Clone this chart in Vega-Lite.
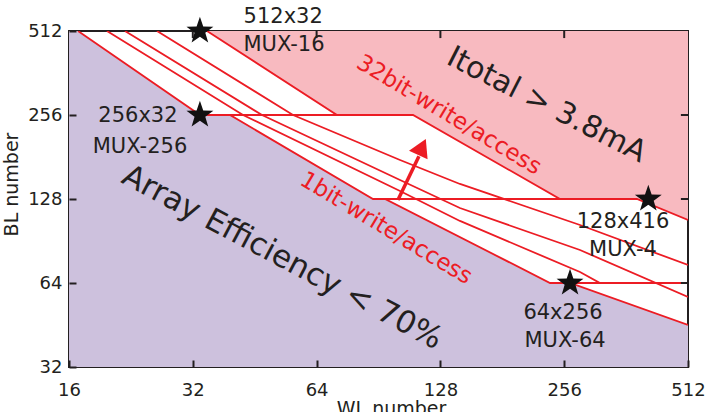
{
  "$schema": "https://vega.github.io/schema/vega-lite/v6.json",
  "width": 619,
  "height": 336,
  "autosize": {"type": "none"},
  "padding": {"left": 69, "top": 31, "right": 23, "bottom": 45},
  "background": "white",
  "config": {
    "view": {"stroke": "#231f20", "strokeWidth": 2},
    "font": "DejaVu Sans"
  },
  "datasets": {
    "regions": [
      {"r": "purple", "WL": 16, "BL": 512},
      {"r": "purple", "WL": 16.83, "BL": 512},
      {"r": "purple", "WL": 33.32, "BL": 256},
      {"r": "purple", "WL": 39.41, "BL": 256},
      {"r": "purple", "WL": 87.77, "BL": 128},
      {"r": "purple", "WL": 93.87, "BL": 128},
      {"r": "purple", "WL": 236.5, "BL": 64},
      {"r": "purple", "WL": 264.5, "BL": 64},
      {"r": "purple", "WL": 512, "BL": 45.25},
      {"r": "pink", "WL": 34.65, "BL": 512},
      {"r": "pink", "WL": 71.74, "BL": 256},
      {"r": "pink", "WL": 109.8, "BL": 256},
      {"r": "pink", "WL": 250.1, "BL": 128},
      {"r": "pink", "WL": 384.8, "BL": 128},
      {"r": "pink", "WL": 512, "BL": 107.6}
    ],
    "curves": [
      {"s": "A", "WL": 16.83, "BL": 512},
      {"s": "A", "WL": 33.32, "BL": 256},
      {"s": "A", "WL": 39.41, "BL": 256},
      {"s": "A", "WL": 87.77, "BL": 128},
      {"s": "A", "WL": 93.87, "BL": 128},
      {"s": "A", "WL": 236.5, "BL": 64},
      {"s": "A", "WL": 264.5, "BL": 64},
      {"s": "A", "WL": 512, "BL": 45.25},
      {"s": "B", "WL": 19.79, "BL": 512},
      {"s": "B", "WL": 42.39, "BL": 256},
      {"s": "B", "WL": 102.1, "BL": 136.7},
      {"s": "B", "WL": 142.8, "BL": 106.8},
      {"s": "B", "WL": 279.7, "BL": 70.08},
      {"s": "B", "WL": 312.8, "BL": 64},
      {"s": "B", "WL": 512, "BL": 64},
      {"s": "C", "WL": 21.89, "BL": 512},
      {"s": "C", "WL": 47.14, "BL": 256},
      {"s": "C", "WL": 102.1, "BL": 149.7},
      {"s": "C", "WL": 142.8, "BL": 118.8},
      {"s": "C", "WL": 279.7, "BL": 84.03},
      {"s": "C", "WL": 512, "BL": 57.02},
      {"s": "D", "WL": 26.19, "BL": 512},
      {"s": "D", "WL": 56.08, "BL": 256},
      {"s": "D", "WL": 102.1, "BL": 176.6},
      {"s": "D", "WL": 142.8, "BL": 144.9},
      {"s": "D", "WL": 279.7, "BL": 103.3},
      {"s": "D", "WL": 512, "BL": 74.25},
      {"s": "E", "WL": 34.65, "BL": 512},
      {"s": "E", "WL": 71.74, "BL": 256},
      {"s": "E", "WL": 109.8, "BL": 256},
      {"s": "E", "WL": 250.1, "BL": 128},
      {"s": "E", "WL": 384.8, "BL": 128},
      {"s": "E", "WL": 512, "BL": 107.6},
      {"s": "H256", "WL": 33.32, "BL": 256},
      {"s": "H256", "WL": 109.8, "BL": 256},
      {"s": "H128", "WL": 87.77, "BL": 128},
      {"s": "H128", "WL": 384.8, "BL": 128},
      {"s": "H64", "WL": 236.5, "BL": 64},
      {"s": "H64", "WL": 512, "BL": 64}
    ],
    "starpts": [
      {"name": "512x32", "WL": 33.3, "BL": 512},
      {"name": "256x32", "WL": 33.3, "BL": 256},
      {"name": "128x416", "WL": 410, "BL": 128},
      {"name": "64x256", "WL": 264.5, "BL": 64}
    ],
    "notes": [
      {"t": "512x32", "WL": 53.07, "BL": 574.7},
      {"t": "MUX-16", "WL": 53.33, "BL": 456.1},
      {"t": "256x32", "WL": 23.54, "BL": 253.9},
      {"t": "MUX-256", "WL": 23.81, "BL": 196.6},
      {"t": "128x416", "WL": 355.8, "BL": 105.9},
      {"t": "MUX-4", "WL": 355.8, "BL": 84.0},
      {"t": "64x256", "WL": 254.3, "BL": 49.96},
      {"t": "MUX-64", "WL": 257.2, "BL": 39.65}
    ],
    "xticks": [{"v": 32}, {"v": 64}, {"v": 128}, {"v": 256}],
    "yticks": [{"v": 64}, {"v": 128}, {"v": 256}]
  },
  "layer": [
    {
      "data": {"name": "regions"},
      "transform": [{"filter": "datum.r == 'purple'"}],
      "mark": {"type": "area", "color": "#cdc1dd", "clip": true},
      "encoding": {
        "x": {"field": "WL", "type": "quantitative",
              "scale": {"type": "log", "base": 2, "domain": [16, 512], "nice": false},
              "axis": {"values": [16, 32, 64, 128, 256, 512], "format": "d", "zindex": 1,
                       "domain": false, "grid": false, "tickSize": -7, "tickWidth": 2, "tickColor": "#231f20",
                       "labelFont": "DejaVu Sans", "labelFontSize": 18, "labelColor": "#231f20",
                       "labelPadding": 21, "labelBaseline": "top", "labelOverlap": false, "labelFlush": false,
                       "title": "WL number", "titleFont": "DejaVu Sans", "titleFontSize": 19, "titleFontWeight": "normal",
                       "titleColor": "#231f20", "titleX": 322, "titleY": 32, "titleBaseline": "top", "titleAlign": "center"}},
        "y": {"field": "BL", "type": "quantitative",
              "scale": {"type": "log", "base": 2, "domain": [32, 512], "nice": false},
              "axis": {"values": [32, 64, 128, 256, 512], "format": "d", "zindex": 1,
                       "domain": false, "grid": false, "tickSize": -7, "tickWidth": 2, "tickColor": "#231f20",
                       "labelFont": "DejaVu Sans", "labelFontSize": 18, "labelColor": "#231f20",
                       "labelPadding": 14, "labelOverlap": false, "labelFlush": false,
                       "title": "BL number", "titleFont": "DejaVu Sans", "titleFontSize": 19, "titleFontWeight": "normal",
                       "titleColor": "#231f20", "titleX": -58, "titleY": 153, "titleAngle": 270,
                       "titleBaseline": "middle", "titleAlign": "center"}},
        "y2": {"datum": 32}
      }
    },
    {
      "data": {"name": "regions"},
      "transform": [{"filter": "datum.r == 'pink'"}],
      "mark": {"type": "area", "color": "#f8bac0", "clip": true},
      "encoding": {
        "x": {"field": "WL", "type": "quantitative"},
        "y": {"field": "BL", "type": "quantitative"},
        "y2": {"datum": 512}
      }
    },
    {
      "data": {"name": "curves"},
      "mark": {"type": "line", "color": "#ec1c24", "strokeWidth": 1.8, "clip": true},
      "encoding": {
        "x": {"field": "WL", "type": "quantitative"},
        "y": {"field": "BL", "type": "quantitative"},
        "detail": {"field": "s", "type": "nominal"}
      }
    },
    {
      "data": {"name": "xticks"},
      "mark": {"type": "rule", "color": "#231f20", "strokeWidth": 2},
      "encoding": {
        "x": {"field": "v", "type": "quantitative"},
        "y": {"datum": 512},
        "y2": {"datum": 483}
      }
    },
    {
      "data": {"name": "yticks"},
      "mark": {"type": "rule", "color": "#231f20", "strokeWidth": 2},
      "encoding": {
        "y": {"field": "v", "type": "quantitative"},
        "x": {"datum": 512},
        "x2": {"datum": 492}
      }
    },
    {
      "data": {"values": [{"WL": 100.9, "BL": 126.9, "WL2": 113.5, "BL2": 182}]},
      "mark": {"type": "rule", "color": "#ec1c24", "strokeWidth": 3.5},
      "encoding": {
        "x": {"field": "WL", "type": "quantitative"},
        "y": {"field": "BL", "type": "quantitative"},
        "x2": {"field": "WL2"},
        "y2": {"field": "BL2"}
      }
    },
    {
      "data": {"values": [{"WL": 115.5, "BL": 196.6}]},
      "mark": {"type": "point", "shape": "triangle-up", "filled": true, "color": "#ec1c24", "opacity": 1, "size": 420, "angle": 25},
      "encoding": {
        "x": {"field": "WL", "type": "quantitative"},
        "y": {"field": "BL", "type": "quantitative"}
      }
    },
    {
      "data": {"name": "starpts"},
      "mark": {"type": "point", "shape": "M0,-1L0.235,-0.324L0.951,-0.309L0.38,0.124L0.588,0.809L0,0.4L-0.588,0.809L-0.38,0.124L-0.951,-0.309L-0.235,-0.324Z", "filled": true, "color": "#111111", "opacity": 1, "size": 800},
      "encoding": {
        "x": {"field": "WL", "type": "quantitative"},
        "y": {"field": "BL", "type": "quantitative"}
      }
    },
    {
      "data": {"name": "notes"},
      "mark": {"type": "text", "font": "DejaVu Sans", "fontSize": 21, "color": "#231f20", "align": "center", "baseline": "middle"},
      "encoding": {
        "x": {"field": "WL", "type": "quantitative"},
        "y": {"field": "BL", "type": "quantitative"},
        "text": {"field": "t", "type": "nominal"}
      }
    },
    {
      "data": {"values": [{"t": "Itotal > 3.8mA", "WL": 232, "BL": 278}]},
      "mark": {"type": "text", "font": "DejaVu Sans", "fontSize": 30, "color": "#231f20", "align": "center", "baseline": "middle", "angle": 27},
      "encoding": {
        "x": {"field": "WL", "type": "quantitative"},
        "y": {"field": "BL", "type": "quantitative"},
        "text": {"field": "t", "type": "nominal"}
      }
    },
    {
      "data": {"values": [{"t": "Array Efficiency < 70%", "WL": 52.73, "BL": 78.67}]},
      "mark": {"type": "text", "font": "DejaVu Sans", "fontSize": 31, "color": "#231f20", "align": "center", "baseline": "middle", "angle": 28},
      "encoding": {
        "x": {"field": "WL", "type": "quantitative"},
        "y": {"field": "BL", "type": "quantitative"},
        "text": {"field": "t", "type": "nominal"}
      }
    },
    {
      "data": {"values": [{"t": "32bit-write/access", "WL": 134.3, "BL": 256}, {"t": "1bit-write/access", "WL": 94.5, "BL": 100.5}]},
      "mark": {"type": "text", "font": "DejaVu Sans", "fontSize": 23, "color": "#ec1c24", "align": "center", "baseline": "middle", "angle": 31},
      "encoding": {
        "x": {"field": "WL", "type": "quantitative"},
        "y": {"field": "BL", "type": "quantitative"},
        "text": {"field": "t", "type": "nominal"}
      }
    }
  ]
}
